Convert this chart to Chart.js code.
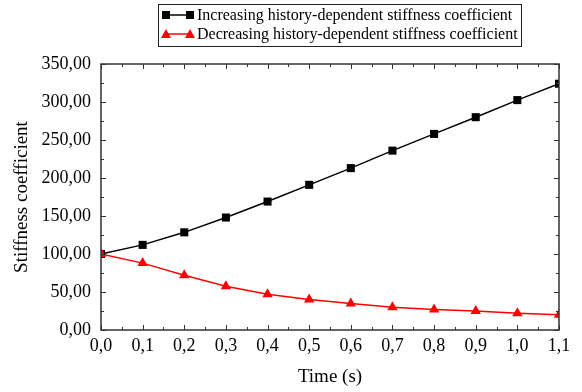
<!DOCTYPE html>
<html>
<head>
<meta charset="utf-8">
<script src="https://cdn.jsdelivr.net/npm/chart.js@4"></script>
<style>
  html, body { margin: 0; padding: 0; background: #fff; }
  #wrap { width: 582px; height: 392px; }
</style>
</head>
<body>
<div id="wrap"><canvas id="chart1" width="582" height="392"></canvas></div>
<script>
const times = [0.0, 0.1, 0.2, 0.3, 0.4, 0.5, 0.6, 0.7, 0.8, 0.9, 1.0, 1.1];
const increasing = [100, 112, 128.5, 148, 169, 191, 213, 236, 258, 280, 302.5, 324];
const decreasing = [100, 88, 72, 57.5, 47, 40, 35, 30, 27, 25, 22, 20];
const seriesNames = [
    'Increasing history-dependent stiffness coefficient',
    'Decreasing history-dependent stiffness coefficient'
];

const serif = "'Liberation Serif', 'Times New Roman', serif";
const axisColor = '#333';

function toPoints(ys) {
    return times.map((t, i) => ({ x: t, y: ys[i] }));
}

// frame + inward ticks on all four sides
const framePlugin = {
    id: 'frame',
    afterDraw(chart) {
        const { ctx, chartArea: a, scales } = chart;
        ctx.save();
        ctx.strokeStyle = axisColor;
        ctx.lineWidth = 1.5;
        ctx.strokeRect(a.left, a.top, a.right - a.left, a.bottom - a.top);
        ctx.lineWidth = 1;
        for (let i = 0; i <= 22; i++) {
            const px = Math.round(scales.x.getPixelForValue(i * 0.05)) + 0.5;
            const len = i % 2 === 0 ? 5 : 3;
            ctx.beginPath();
            ctx.moveTo(px, a.bottom); ctx.lineTo(px, a.bottom - len);
            ctx.moveTo(px, a.top); ctx.lineTo(px, a.top + len);
            ctx.stroke();
        }
        for (let i = 0; i <= 14; i++) {
            const py = Math.round(scales.y.getPixelForValue(i * 25)) + 0.5;
            const len = i % 2 === 0 ? 5 : 3;
            ctx.beginPath();
            ctx.moveTo(a.left, py); ctx.lineTo(a.left + len, py);
            ctx.moveTo(a.right, py); ctx.lineTo(a.right - len, py);
            ctx.stroke();
        }
        ctx.restore();
    }
};

// boxed legend like the original figure
const boxLegend = {
    id: 'boxLegend',
    afterDraw(chart) {
        const ctx = chart.ctx;
        const box = { x: 158, y: 4, w: 363, h: 42 };
        ctx.save();
        ctx.fillStyle = '#fff';
        ctx.fillRect(box.x, box.y, box.w, box.h);
        ctx.strokeStyle = '#222';
        ctx.lineWidth = 1;
        ctx.strokeRect(box.x + 0.5, box.y + 0.5, box.w, box.h);
        const rows = [15, 34];
        chart.data.datasets.forEach((ds, i) => {
            const y = rows[i];
            ctx.strokeStyle = ds.borderColor;
            ctx.fillStyle = ds.borderColor;
            ctx.lineWidth = 1.5;
            ctx.beginPath();
            ctx.moveTo(165, y); ctx.lineTo(191, y);
            ctx.stroke();
            [166, 190].forEach(px => {
                ctx.beginPath();
                if (ds.pointStyle === 'rect') {
                    ctx.rect(px - 4, y - 4, 8, 8);
                } else {
                    ctx.moveTo(px, y - 5); ctx.lineTo(px + 5, y + 4); ctx.lineTo(px - 5, y + 4);
                    ctx.closePath();
                }
                ctx.fill();
            });
            ctx.fillStyle = '#000';
            ctx.font = '16px ' + serif;
            ctx.textBaseline = 'middle';
            ctx.fillText(seriesNames[i], 197, y + 1);
        });
        ctx.restore();
    }
};

const ctx1 = document.getElementById('chart1').getContext('2d');
new Chart(ctx1, {
    type: 'line',
    data: {
        datasets: [{
            label: seriesNames[0],
            data: toPoints(increasing),
            borderColor: '#000',
            backgroundColor: '#000',
            borderWidth: 1.5,
            pointStyle: 'rect',
            pointRadius: 5.7,
            pointBorderWidth: 0,
            order: 1
        }, {
            label: seriesNames[1],
            data: toPoints(decreasing),
            borderColor: '#ff0000',
            backgroundColor: '#ff0000',
            borderWidth: 1.5,
            pointStyle: 'triangle',
            pointRadius: 6,
            pointBorderWidth: 0,
            order: 0
        }]
    },
    options: {
        responsive: false,
        animation: false,
        layout: { padding: { top: 64, right: 23, left: 0, bottom: 0 } },
        plugins: { legend: { display: false }, tooltip: { enabled: false } },
        scales: {
            x: {
                type: 'linear',
                min: 0,
                max: 1.1,
                grid: { display: false, drawTicks: false },
                border: { display: false },
                ticks: {
                    stepSize: 0.1,
                    padding: 5,
                    color: '#000',
                    font: { family: serif, size: 18 },
                    maxRotation: 0,
                    callback: v => Number(v).toFixed(1).replace('.', ',')
                },
                title: {
                    display: true,
                    text: 'Time (s)',
                    color: '#000',
                    font: { family: serif, size: 19 },
                    padding: { top: 4, bottom: 4 }
                },
                afterFit: s => { s.height = 62; }
            },
            y: {
                min: 0,
                max: 350,
                grid: { display: false, drawTicks: false },
                border: { display: false },
                ticks: {
                    stepSize: 50,
                    padding: 10,
                    color: '#000',
                    font: { family: serif, size: 18 },
                    callback: v => Number(v).toFixed(2).replace('.', ',')
                },
                title: {
                    display: true,
                    text: 'Stiffness coefficient',
                    color: '#000',
                    font: { family: serif, size: 19 },
                    padding: { top: 11, bottom: 0 }
                },
                afterFit: s => { s.width = 101; }
            }
        }
    },
    plugins: [framePlugin, boxLegend]
});
</script>
</body>
</html>
